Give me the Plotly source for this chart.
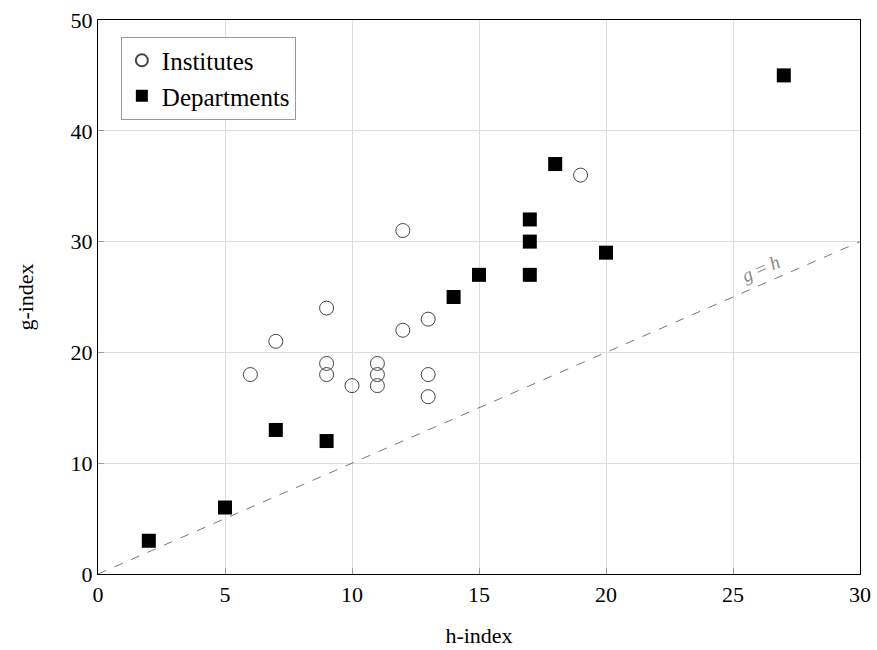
import plotly.graph_objects as go

inst_h = [6, 7, 9, 9, 9, 10, 11, 11, 11, 12, 12, 13, 13, 13, 19]
inst_g = [18, 21, 24, 19, 18, 17, 19, 18, 17, 31, 22, 23, 18, 16, 36]
dept_h = [2, 5, 7, 9, 14, 15, 17, 17, 17, 18, 20, 27]
dept_g = [3, 6, 13, 12, 25, 27, 32, 30, 27, 37, 29, 45]
line_x = [0, 30]
line_y = [0, 30]

FONT = "Liberation Serif"

fig = go.Figure()
fig.add_trace(go.Scatter(x=line_x, y=line_y, mode="lines",
                         line=dict(color="#777777", width=1, dash="dash"),
                         showlegend=False, hoverinfo="skip"))
fig.add_trace(go.Scatter(x=inst_h, y=inst_g, mode="markers", name="Institutes",
                         marker=dict(symbol="circle-open", size=14, color="#444444",
                                     line=dict(width=1, color="#444444"))))
fig.add_trace(go.Scatter(x=dept_h, y=dept_g, mode="markers", name="Departments",
                         marker=dict(symbol="square", size=14, color="black")))

fig.add_annotation(x=26.1, y=27.6, text="<i>g</i> = <i>h</i>", showarrow=False,
                   textangle=-23.6, font=dict(family=FONT, size=19, color="#888888"))

axis_common = dict(showgrid=True, gridcolor="#dddddd", gridwidth=1,
                   showline=True, linecolor="black", linewidth=1.3, mirror=True,
                   ticks="inside", ticklen=6, tickcolor="#999999",
                   zeroline=False, tickfont=dict(family=FONT, size=22, color="black"))

fig.update_xaxes(range=[0, 30], dtick=5, automargin=False,
                 title=dict(text="h-index", font=dict(family=FONT, size=22, color="black"), standoff=22),
                 **axis_common)
fig.update_yaxes(range=[0, 50], dtick=10, automargin=False,
                 title=dict(text="g-index", font=dict(family=FONT, size=22, color="black"), standoff=30),
                 **axis_common)

fig.update_layout(width=877, height=650,
                  margin=dict(l=98, r=17, t=20, b=76),
                  plot_bgcolor="white", paper_bgcolor="white",
                  font=dict(family=FONT, color="black"),
                  legend=dict(x=0.03, y=0.97, xanchor="left", yanchor="top",
                              bgcolor="white", bordercolor="#999999", borderwidth=1,
                              font=dict(family=FONT, size=25, color="black"),
                              itemsizing="constant", tracegroupgap=0))

fig.write_html("out.html", config={"displayModeBar": False},
               post_script="document.body.style.margin='0';document.body.style.overflow='hidden';")
